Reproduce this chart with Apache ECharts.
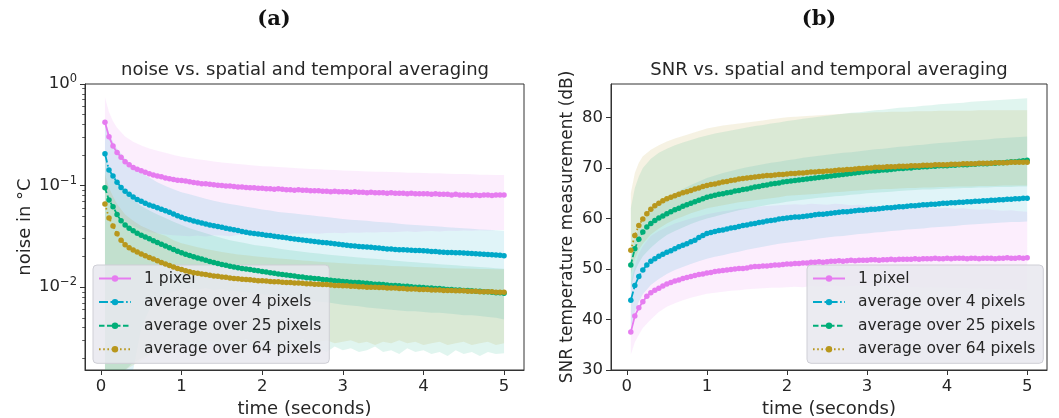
<!DOCTYPE html>
<html><head><meta charset="utf-8">
<script src="https://cdn.jsdelivr.net/npm/echarts@6.0.0/dist/echarts.min.js"></script>
<style>html,body{margin:0;padding:0;background:#fff}#c{width:1059px;height:418px}</style>
</head><body><div id="c"></div>
<script>
// ---- data ----
const seriesNames = ['1 pixel', 'average over 4 pixels', 'average over 25 pixels', 'average over 64 pixels'];
const xTicks = [0, 1, 2, 3, 4, 5];
const noiseTicks = [0.01, 0.1, 1];
const noiseMinorTicks = [0.002,0.003,0.004,0.005,0.006,0.007,0.008,0.009,0.02,0.03,0.04,0.05,0.06,0.07,0.08,0.09,0.2,0.3,0.4,0.5,0.6,0.7,0.8,0.9];
const snrTicks = [30, 40, 50, 60, 70, 80];

const time = [
0.05,0.10,0.15,0.20,0.25,0.30,0.35,0.40,0.45,0.50,
0.55,0.60,0.65,0.70,0.75,0.80,0.85,0.90,0.95,1.00,
1.05,1.10,1.15,1.20,1.25,1.30,1.35,1.40,1.45,1.50,
1.55,1.60,1.65,1.70,1.75,1.80,1.85,1.90,1.95,2.00,
2.05,2.10,2.15,2.20,2.25,2.30,2.35,2.40,2.45,2.50,
2.55,2.60,2.65,2.70,2.75,2.80,2.85,2.90,2.95,3.00,
3.05,3.10,3.15,3.20,3.25,3.30,3.35,3.40,3.45,3.50,
3.55,3.60,3.65,3.70,3.75,3.80,3.85,3.90,3.95,4.00,
4.05,4.10,4.15,4.20,4.25,4.30,4.35,4.40,4.45,4.50,
4.55,4.60,4.65,4.70,4.75,4.80,4.85,4.90,4.95,5.00];

const noise1 = [
.420,.303,.245,.212,.190,.172,.160,.151,.145,.140,
.135,.131,.127,.124,.122,.119,.117,.115,.113,.112,
.111,.109,.107,.106,.104,.104,.103,.102,.101,.100,
.099,.099,.098,.097,.097,.096,.095,.095,.094,.094,
.093,.093,.092,.093,.092,.091,.091,.090,.091,.090,
.090,.089,.089,.089,.088,.088,.087,.088,.087,.087,
.087,.086,.087,.086,.086,.085,.086,.085,.085,.085,
.084,.085,.084,.084,.084,.083,.084,.083,.083,.083,
.083,.082,.083,.082,.082,.082,.081,.082,.081,.081,
.081,.080,.081,.080,.081,.081,.080,.081,.081,.081];
const noise4 = [
.206,.142,.124,.108,.096,.088,.082,.077,.073,.070,
.067,.0645,.0625,.0605,.0585,.0565,.0545,.0525,.0505,.0488,
.0472,.0460,.0449,.0438,.0428,.0418,.0410,.0402,.0395,.0388,
.0381,.0374,.0368,.0362,.0354,.0348,.0341,.0337,.0334,.0330,
.0325,.0322,.0318,.0313,.0310,.0306,.0302,.0298,.0295,.0292,
.0288,.0284,.0281,.0279,.0276,.0273,.0270,.0268,.0264,.0262,
.0258,.0256,.0254,.0252,.0250,.0249,.0247,.0245,.0243,.0240,
.0238,.0237,.0235,.0234,.0233,.0232,.0231,.0230,.0229,.0228,
.0227,.0225,.0224,.0222,.0221,.0220,.0219,.0218,.0218,.0217,
.0216,.0215,.0213,.0212,.0211,.0210,.0209,.0207,.0206,.0204];
const noise25 = [
.095,.072,.062,.052,.045,.041,.038,.036,.034,.0325,
.0312,.0299,.0287,.0276,.0265,.0255,.0245,.0235,.0226,.0218,
.0211,.0205,.0199,.0194,.0189,.0184,.0179,.0175,.0171,.0167,
.0164,.0161,.0158,.0155,.0153,.0151,.0149,.0147,.0145,.0143,
.0141,.0139,.0137,.0135,.0133,.0132,.0130,.0129,.0127,.0126,
.0124,.0123,.0122,.0121,.0119,.0118,.0117,.0116,.0115,.0114,
.0113,.0112,.0111,.0111,.0110,.0109,.0108,.0107,.0107,.0106,
.0105,.0104,.0104,.0103,.0102,.0102,.0101,.0100,.0100,.0099,
.0098,.0098,.0097,.0097,.0096,.0095,.0095,.0094,.0094,.0093,
.0093,.0092,.0091,.0091,.0090,.0090,.0089,.0088,.0088,.0087];
const noise64 = [
.066,.048,.040,.0335,.0290,.0262,.0245,.0232,.0222,.0212,
.0204,.0196,.0189,.0182,.0175,.0169,.0163,.0158,.0153,.0149,
.0145,.0142,.0139,.0137,.0135,.0133,.0131,.0129,.0128,.0126,
.0125,.0123,.0122,.0121,.0120,.0119,.0118,.0117,.0116,.0116,
.0115,.0114,.0113,.0113,.0112,.0111,.0111,.0110,.0110,.0109,
.0108,.0108,.0107,.0107,.0106,.0106,.0105,.0104,.0104,.0103,
.0103,.0102,.0102,.0101,.0101,.0100,.0100,.0100,.0099,.0099,
.0098,.0098,.0098,.0097,.0097,.0096,.0096,.0096,.0095,.0095,
.0095,.0094,.0094,.0094,.0093,.0093,.0093,.0092,.0092,.0092,
.0091,.0091,.0091,.0090,.0090,.0090,.0090,.0089,.0089,.0089];

const snr1 = [
37.5,40.7,42.3,43.5,44.6,45.3,45.8,46.2,46.6,47.0,
47.3,47.6,47.8,48.1,48.3,48.5,48.7,48.9,49.0,49.2,
49.3,49.5,49.6,49.7,49.8,49.9,50.0,50.1,50.1,50.2,
50.4,50.5,50.5,50.6,50.6,50.7,50.8,50.8,50.9,51.0,
51.0,51.1,51.1,51.2,51.2,51.3,51.3,51.4,51.3,51.4,
51.5,51.5,51.6,51.5,51.6,51.7,51.6,51.7,51.7,51.7,
51.8,51.8,51.7,51.8,51.8,51.9,51.8,51.9,51.9,51.9,
51.9,52.0,51.9,52.0,52.0,52.0,52.1,52.0,52.0,52.1,
52.0,52.1,52.1,52.1,52.0,52.1,52.1,52.0,52.1,52.1,
52.1,52.0,52.1,52.1,52.2,52.1,52.1,52.2,52.1,52.2];
const snr4 = [
43.8,46.7,48.5,49.8,50.8,51.5,52.0,52.5,52.9,53.3,
53.6,54.0,54.4,54.7,55.0,55.4,55.7,56.2,56.6,57.0,
57.2,57.4,57.6,57.7,57.9,58.1,58.2,58.4,58.6,58.7,
58.9,59.0,59.2,59.3,59.5,59.6,59.7,59.9,60.0,60.1,
60.2,60.3,60.3,60.4,60.5,60.6,60.7,60.8,60.8,60.9,
61.0,61.1,61.2,61.3,61.3,61.4,61.5,61.6,61.6,61.7,
61.8,61.8,61.9,62.0,62.1,62.1,62.2,62.3,62.3,62.4,
62.5,62.5,62.6,62.7,62.7,62.8,62.8,62.9,63.0,63.0,
63.1,63.1,63.2,63.2,63.3,63.3,63.4,63.4,63.5,63.5,
63.6,63.6,63.7,63.7,63.8,63.8,63.9,63.9,64.0,64.0];
const snr25 = [
50.8,54.0,55.9,57.3,58.3,59.0,59.6,60.1,60.5,60.9,
61.3,61.7,62.0,62.4,62.7,63.0,63.3,63.6,63.9,64.2,
64.4,64.6,64.8,64.9,65.1,65.2,65.4,65.5,65.7,65.8,
66.0,66.2,66.3,66.5,66.6,66.8,66.9,67.0,67.2,67.3,
67.4,67.5,67.6,67.7,67.8,67.9,68.0,68.1,68.2,68.3,
68.4,68.5,68.6,68.7,68.8,68.9,69.0,69.1,69.2,69.3,
69.4,69.4,69.5,69.6,69.6,69.7,69.8,69.9,69.9,70.0,
70.0,70.1,70.1,70.2,70.2,70.3,70.3,70.4,70.4,70.4,
70.5,70.5,70.6,70.6,70.6,70.7,70.7,70.8,70.8,70.8,
70.9,70.9,71.0,71.0,71.1,71.2,71.2,71.3,71.4,71.5];
const snr64 = [
53.7,56.6,58.6,59.9,60.9,61.8,62.5,63.0,63.5,63.9,
64.2,64.5,64.8,65.1,65.3,65.5,65.8,66.0,66.3,66.5,
66.7,66.8,67.0,67.2,67.3,67.5,67.6,67.8,67.9,68.0,
68.1,68.2,68.3,68.4,68.5,68.5,68.6,68.7,68.7,68.8,
68.9,68.9,69.0,69.0,69.1,69.2,69.2,69.3,69.3,69.4,
69.4,69.5,69.6,69.6,69.7,69.7,69.8,69.9,69.9,70.0,
70.0,70.1,70.1,70.1,70.2,70.2,70.2,70.3,70.3,70.3,
70.4,70.4,70.4,70.5,70.5,70.5,70.6,70.6,70.6,70.6,
70.7,70.7,70.7,70.8,70.8,70.8,70.8,70.9,70.9,70.9,
70.9,71.0,71.0,71.0,71.0,71.1,71.1,71.1,71.1,71.1];

// shaded spread bands (sampled coarser)
const bandTime = [0.05,0.10,0.15,0.20,0.3,0.4,0.5,0.6,0.7,0.8,0.9,1.0,1.1,1.2,1.3,1.4,1.5,1.6,1.7,1.8,1.9,2.0,2.1,2.2,2.3,2.4,2.5,2.6,2.7,2.8,2.9,3.0,3.1,3.2,3.3,3.4,3.5,3.6,3.7,3.8,3.9,4.0,4.1,4.2,4.3,4.4,4.5,4.6,4.7,4.8,4.9,5.0];

const noise1Upper = [.74,.53,.43,.37,.305,.27,.248,.232,.22,.21,.20,.192,.187,.182,.178,.173,.169,.166,.163,.160,.158,.155,.154,.152,.151,.149,.147,.146,.145,.143,.142,.141,.140,.139,.138,.137,.137,.136,.135,.134,.134,.133,.132,.132,.131,.130,.130,.129,.128,.128,.127,.127];
const noise1Lower = [.100,.075,.062,.054,.045,.040,.037,.035,.034,.033,.0325,.032,.0318,.0322,.0315,.0325,.0322,.0318,.0326,.0330,.0324,.0328,.0332,.0335,.0330,.0338,.0336,.0340,.0335,.0342,.0344,.0340,.0346,.0343,.0348,.0346,.0350,.0348,.0352,.0355,.0350,.0356,.0358,.0354,.0360,.0357,.0362,.0359,.0364,.0361,.0366,.0365];
const noise4Upper = [.45,.33,.27,.23,.185,.155,.135,.120,.108,.099,.092,.086,.082,.078,.074,.071,.068,.066,.064,.062,.060,.058,.057,.055,.054,.053,.052,.051,.050,.049,.048,.047,.046,.0455,.045,.044,.0435,.043,.042,.0415,.041,.0405,.040,.0395,.039,.0385,.038,.0375,.037,.0368,.0364,.036];
const noise4Lower = [.00153,.00153,.00153,.00153,.00153,.00153,.004,.006,.0075,.0085,.009,.0095,.0097,.0095,.0098,.0094,.0096,.0093,.0091,.0089,.0088,.0085,.0084,.0081,.0080,.0078,.0076,.0074,.0072,.0071,.0069,.0067,.0066,.0065,.0063,.0062,.0061,.0060,.0059,.0058,.0058,.0057,.0056,.0056,.0055,.0054,.0053,.0053,.0052,.0051,.0050,.0048];
const noise25Upper = [.19,.15,.125,.11,.09,.072,.063,.057,.052,.048,.044,.041,.038,.036,.034,.032,.0305,.029,.028,.027,.026,.0255,.0248,.024,.0234,.0228,.0223,.0218,.0214,.021,.0206,.0203,.0199,.0196,.0193,.019,.0187,.0184,.0181,.0178,.0176,.0173,.0171,.0168,.0166,.0164,.0162,.016,.0158,.0156,.0154,.0152];
const noise25Lower = [.00153,.00153,.00153,.00153,.00153,.0018,.0020,.0022,.0024,.0025,.0026,.0026,.0027,.0025,.0026,.0028,.0025,.0027,.0026,.0024,.0027,.0025,.0026,.0024,.0025,.0027,.0024,.0026,.0025,.0023,.0026,.0024,.0025,.0023,.0024,.0026,.0023,.0024,.0022,.0025,.0023,.0024,.0022,.0023,.0021,.0024,.0022,.0023,.0021,.0023,.0022,.00224];
const noise64Upper = [.13,.095,.078,.066,.052,.045,.040,.037,.034,.032,.029,.027,.0258,.0247,.0238,.023,.0222,.0216,.021,.0206,.0202,.0198,.0195,.0192,.0189,.0186,.0183,.0181,.0178,.0176,.0174,.0172,.017,.0168,.0167,.0165,.0164,.0162,.0161,.016,.0158,.0157,.0156,.0155,.0154,.0153,.0153,.0152,.0151,.0151,.015,.015];
const noise64Lower = [.00153,.00153,.00153,.00153,.00153,.0017,.0019,.0021,.0023,.0025,.0026,.0027,.0029,.0028,.0030,.0029,.0028,.0030,.0029,.0031,.0028,.0030,.0029,.0028,.0030,.0029,.0031,.0028,.0029,.0030,.0028,.0029,.0030,.0028,.0029,.0027,.0029,.0028,.0030,.0028,.0029,.0027,.0028,.0029,.0027,.0028,.0029,.0027,.0028,.0029,.0027,.0028];

const snr1Upper = [47,50.5,53,54.5,56.5,57.5,58.3,59,59.5,60,60.4,60.8,61.1,61.4,61.6,61.9,62.0,62.2,62.4,62.5,62.6,62.7,62.8,62.7,62.9,62.8,62.7,62.9,62.8,62.6,62.7,62.5,62.6,62.4,62.5,62.3,62.4,62.2,62.3,62.1,62.0,62.1,61.9,62.0,61.8,61.7,61.8,61.6,61.5,61.6,61.4,61.3];
const snr1Lower = [33,35.5,37,38.3,40,41.5,42.5,43.2,43.8,44.3,44.7,45.1,45.3,45.5,45.7,45.8,46.0,46.1,46.2,46.3,46.3,46.4,46.5,46.4,46.6,46.5,46.6,46.7,46.5,46.6,46.7,46.6,46.5,46.6,46.4,46.5,46.4,46.5,46.3,46.4,46.3,46.3,46.2,46.3,46.1,46.2,46.0,46.1,45.9,46.0,45.9,45.8];
const snr4Upper = [52,56,58,59.5,61.5,62.8,64,65,65.8,66.6,67.3,68,68.5,69,69.4,69.8,70.1,70.4,70.7,71,71.2,71.5,71.7,72,72.2,72.4,72.6,72.8,73,73.1,73.3,73.5,73.7,73.8,74,74.2,74.3,74.5,74.6,74.8,74.9,75,75.1,75.3,75.4,75.5,75.6,75.8,75.9,76,76.1,76.2];
const snr4Lower = [38.5,41.5,43.5,45,46.8,48,49,49.8,50.4,51,51.5,52,52.4,52.7,53.1,53.4,53.8,54.1,54.4,54.7,55,55.2,55.4,55.6,55.8,56,56.2,56.4,56.5,56.7,56.9,57,57.2,57.3,57.5,57.6,57.8,57.9,58,58.2,58.3,58.4,58.5,58.7,58.8,58.9,59,59.1,59.2,59.3,59.3,59.4];
const snr25Upper = [62,66,68.3,70,71.8,73,73.8,74.5,75,75.5,76,76.4,76.8,77.1,77.4,77.7,78,78.3,78.5,78.8,79,79.3,79.5,79.7,79.9,80.1,80.3,80.5,80.7,80.9,81,81.2,81.4,81.5,81.7,81.9,82,82.1,82.3,82.4,82.6,82.7,82.8,82.9,83.1,83.2,83.3,83.4,83.5,83.6,83.7,83.8];
const snr25Lower = [46,49.5,51.2,52.5,54.2,55.6,56.7,57.5,58.2,58.9,59.5,60,60.4,60.8,61.2,61.6,61.9,62.2,62.5,62.8,63,63.3,63.5,63.7,63.9,64.1,64.2,64.4,64.5,64.7,64.8,65,65.1,65.2,65.3,65.4,65.5,65.6,65.7,65.7,65.8,65.9,65.9,66,66,66.1,66.1,66.2,66.2,66.2,66.3,66.3];
const snr64Upper = [65,69,71,72.3,73.6,74.5,75.2,75.8,76.3,76.8,77.3,77.8,78.1,78.4,78.6,78.8,79,79.2,79.4,79.6,79.8,80,80.1,80.2,80.3,80.4,80.5,80.6,80.7,80.8,80.8,80.9,81,81,81.1,81.1,81.1,81.2,81.2,81.2,81.3,81.3,81.3,81.3,81.3,81.4,81.4,81.4,81.4,81.4,81.4,81.4];
const snr64Lower = [49,52,53.8,55,56.8,58,59,59.8,60.4,61,61.5,62,62.3,62.6,62.9,63.2,63.4,63.6,63.8,64,64.2,64.5,64.6,64.7,64.8,64.9,65.1,65.2,65.3,65.4,65.5,65.6,65.7,65.8,65.8,65.9,66,66,66.1,66.1,66.2,66.2,66.3,66.3,66.3,66.4,66.4,66.4,66.5,66.5,66.5,66.5];

// ---- styling ----
const colors = ['#E67CF0', '#00A8C8', '#00AE78', '#B8971C'];
const fills = ['rgba(230,124,240,0.13)', 'rgba(0,168,200,0.12)', 'rgba(0,174,120,0.12)', 'rgba(184,151,28,0.12)'];
const dashes = ['solid', [9, 2.5, 1.6, 2.5], [5.5, 2.5], [1.6, 2.6]];
const FONT = 'DejaVu Sans';
const TXT = '#262626';
const AX = '#333333';

function lineSeries(i, xIdx, yIdx, vals) {
  return {
    name: seriesNames[i], type: 'line', xAxisIndex: xIdx, yAxisIndex: yIdx,
    data: time.map((t, k) => [t, vals[k]]),
    symbol: 'circle', symbolSize: 5.5, showSymbol: true,
    lineStyle: { width: 1.8, type: dashes[i], color: colors[i] },
    itemStyle: { color: colors[i] },
    z: 5, clip: true, emphasis: { disabled: true }, animation: false
  };
}
function bandSeries(i, xIdx, yIdx, lower, upper) {
  return {
    type: 'custom', xAxisIndex: xIdx, yAxisIndex: yIdx, silent: true, z: 2, clip: true, animation: false,
    data: bandTime.map((t, k) => [t, lower[k], upper[k]]),
    encode: { x: 0, y: [1, 2] },
    renderItem: function (params, api) {
      if (params.dataIndex !== 0) return null;
      const pts = [];
      for (let k = 0; k < bandTime.length; k++) pts.push(api.coord([bandTime[k], upper[k]]));
      for (let k = bandTime.length - 1; k >= 0; k--) pts.push(api.coord([bandTime[k], lower[k]]));
      return { type: 'polygon', shape: { points: pts }, style: { fill: fills[i], stroke: null } };
    }
  };
}
function xAxisCfg(grid) {
  return {
    type: 'value', gridIndex: grid, min: -0.1975, max: 5.2475,
    name: 'time (seconds)', nameLocation: 'middle', nameGap: 30,
    nameTextStyle: { fontFamily: FONT, fontSize: 18, color: TXT },
    axisLine: { onZero: false, lineStyle: { color: AX, width: 1 } },
    axisTick: { customValues: xTicks, length: 5, lineStyle: { color: AX } },
    axisLabel: { customValues: xTicks, fontFamily: FONT, fontSize: 16.5, color: TXT, margin: 8 },
    splitLine: { show: false }
  };
}
function supLabel(v) {
  const e = Math.round(Math.log10(v));
  return '{b|10}{s|' + (e < 0 ? '\u2212' + (-e) : String(e)) + '}';
}
const legendCommon = {
  data: seriesNames, orient: 'vertical', top: 265, itemWidth: 32, itemHeight: 8, itemGap: 7.6,
  padding: [5.5, 8, 6, 5],
  backgroundColor: 'rgba(232,232,238,0.85)', borderColor: '#cfcfd6', borderWidth: 1, borderRadius: 4,
  textStyle: { fontFamily: FONT, fontSize: 15.5, color: TXT, padding: [0, 0, 0, 8] },
  selectedMode: false
};

const option = {
  animation: false,
  backgroundColor: '#ffffff',
  title: [
    { text: '(a)', left: 274, top: 9, textAlign: 'center', padding: 0, textStyle: { fontFamily: 'DejaVu Serif', fontWeight: 'bold', fontSize: 21, color: '#111' } },
    { text: '(b)', left: 819, top: 9, textAlign: 'center', padding: 0, textStyle: { fontFamily: 'DejaVu Serif', fontWeight: 'bold', fontSize: 21, color: '#111' } },
    { text: 'noise vs. spatial and temporal averaging', left: 305, top: 61, textAlign: 'center', padding: 0, textStyle: { fontFamily: FONT, fontWeight: 'normal', fontSize: 18, color: TXT } },
    { text: 'SNR vs. spatial and temporal averaging', left: 829, top: 61, textAlign: 'center', padding: 0, textStyle: { fontFamily: FONT, fontWeight: 'normal', fontSize: 18, color: TXT } }
  ],
  grid: [
    { left: 85, top: 84, width: 439, height: 286, show: true, borderColor: AX, borderWidth: 1, backgroundColor: 'transparent', outerBoundsMode: 'none', containLabel: false },
    { left: 611, top: 84, width: 436, height: 286, show: true, borderColor: AX, borderWidth: 1, backgroundColor: 'transparent', outerBoundsMode: 'none', containLabel: false }
  ],
  legend: [
    Object.assign({}, legendCommon, { left: 93 }),
    Object.assign({}, legendCommon, { left: 807 })
  ],
  xAxis: [xAxisCfg(0), xAxisCfg(1)],
  yAxis: [
    {
      type: 'log', logBase: 10, gridIndex: 0, min: 0.00153, max: 1, position: 'left',
      name: 'noise in °C', nameLocation: 'middle', nameGap: 51,
      nameTextStyle: { fontFamily: FONT, fontSize: 18, color: TXT },
      axisLine: { show: true, onZero: false, lineStyle: { color: AX, width: 1 } },
      axisTick: { customValues: noiseTicks, length: 5, lineStyle: { color: AX } },
      axisLabel: {
        customValues: noiseTicks, margin: 8, formatter: supLabel,
        rich: {
          b: { fontFamily: FONT, fontSize: 16.5, color: TXT, lineHeight: 22, verticalAlign: 'middle' },
          s: { fontFamily: FONT, fontSize: 11.5, color: TXT, lineHeight: 12, verticalAlign: 'top' }
        }
      },
      splitLine: { show: false }
    },
    {
      type: 'log', logBase: 10, gridIndex: 0, min: 0.00153, max: 1, position: 'left', offset: 0,
      axisLine: { show: false, onZero: false },
      axisTick: { show: true, customValues: noiseMinorTicks, length: 2.8, lineStyle: { color: AX, width: 0.8 } },
      axisLabel: { show: false },
      splitLine: { show: false }
    },
    {
      type: 'value', gridIndex: 1, min: 30, max: 86.6, position: 'left',
      name: 'SNR temperature measurement (dB)', nameLocation: 'middle', nameGap: 35,
      nameTextStyle: { fontFamily: FONT, fontSize: 17, color: TXT },
      axisLine: { show: true, onZero: false, lineStyle: { color: AX, width: 1 } },
      axisTick: { customValues: snrTicks, length: 5, lineStyle: { color: AX } },
      axisLabel: { customValues: snrTicks, fontFamily: FONT, fontSize: 16.5, color: TXT, margin: 8 },
      splitLine: { show: false }
    }
  ],
  series: [
    bandSeries(0, 0, 0, noise1Lower, noise1Upper),
    bandSeries(1, 0, 0, noise4Lower, noise4Upper),
    bandSeries(2, 0, 0, noise25Lower, noise25Upper),
    bandSeries(3, 0, 0, noise64Lower, noise64Upper),
    bandSeries(0, 1, 2, snr1Lower, snr1Upper),
    bandSeries(1, 1, 2, snr4Lower, snr4Upper),
    bandSeries(2, 1, 2, snr25Lower, snr25Upper),
    bandSeries(3, 1, 2, snr64Lower, snr64Upper),
    lineSeries(0, 0, 0, noise1),
    lineSeries(1, 0, 0, noise4),
    lineSeries(2, 0, 0, noise25),
    lineSeries(3, 0, 0, noise64),
    lineSeries(0, 1, 2, snr1),
    lineSeries(1, 1, 2, snr4),
    lineSeries(2, 1, 2, snr25),
    lineSeries(3, 1, 2, snr64)
  ]
};
const chart = echarts.init(document.getElementById('c'), null, { renderer: 'canvas' });
chart.setOption(option);
</script>
</body></html>
